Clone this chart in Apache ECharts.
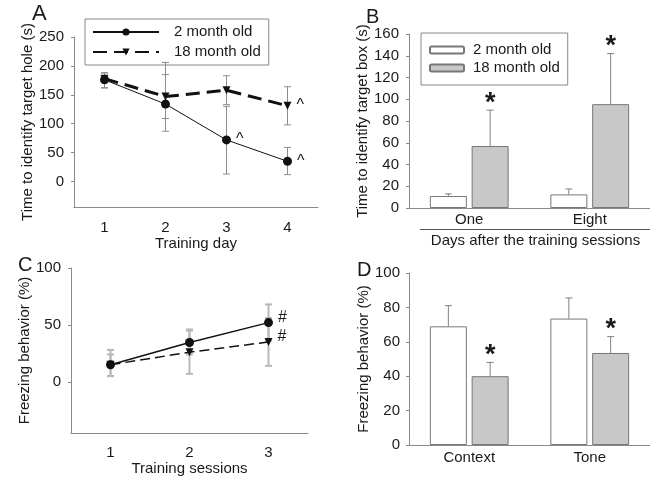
<!DOCTYPE html>
<html><head><meta charset="utf-8">
<script src="https://cdn.jsdelivr.net/npm/echarts@6/dist/echarts.min.js"></script>
<style>html,body{margin:0;padding:0;background:#fff}#c{width:650px;height:482px}</style>
</head><body><div id="c"></div>
<script>
// ---- Panel A data ----
const days = ['1','2','3','4'];
const a2 = [176,134,72,35];
const a2Lo = [162,87,13,12];
const a2Hi = [188,185,130,59];
const a18 = [178,147,158,131];
const a18Lo = [162,109,133,98];
const a18Hi = [188,206,183,164];
const aMark2 = ['','','^','^'];
const aMark18 = ['','','','^'];
const yTicksA = [0,50,100,150,200,250];
// ---- Panel B data ----
const bCats = ['One','Eight'];
const b2 = [11,12.5];
const b2Err = [13,17.5];
const b18 = [57,95.5];
const b18Err = [90,142];
const bMark18 = ['*','*'];
// ---- Panel C data ----
const sessions = ['1','2','3'];
const c2 = [15,34.5,52];
const c2Lo = [5,24,36];
const c2Hi = [24,46,68];
const c18 = [15,26,35];
const c18Lo = [5,7,14];
const c18Hi = [28,45,56];
const cMark2 = ['','','#'];
const cMark18 = ['','','#'];
const yTicksC = [0,50,100];
// ---- Panel D data ----
const dCats = ['Context','Tone'];
const d2 = [69,73.5];
const d2Err = [81,85.5];
const d18 = [40,53.5];
const d18Err = [48,63];
const dMark18 = ['*','*'];

const FONT = 'Liberation Sans, Arial, sans-serif';
const TXT = '#1a1a1a';
const AX = '#8a8a8a';
const FS = 15;

function lineData(vals, marks){
  return vals.map((v,i)=>({value:v, label:{show:!!marks[i], formatter:marks[i]}}));
}
function errSeries(name, gi, lo, hi, opt){
  const o = Object.assign({offset:0, color:'#888', width:1, capW:7, lowerCap:true, marks:null, markFont:'bold 27px '+FONT, markGap:0}, opt);
  return {
    type:'custom', name:name, xAxisIndex:gi, yAxisIndex:gi, z:o.z||3,
    data: lo.map((l,i)=>[i,l,hi[i]]),
    encode:{x:0,y:[1,2]},
    silent:true,
    renderItem:function(params, api){
      const i = api.value(0);
      const p1 = api.coord([i, api.value(1)]);
      const p2 = api.coord([i, api.value(2)]);
      const x = p1[0] + o.offset;
      const st = {stroke:o.color, lineWidth:o.width};
      const ch = [
        {type:'line', shape:{x1:x,y1:p1[1],x2:x,y2:p2[1]}, style:st},
        {type:'line', shape:{x1:x-o.capW/2,y1:p2[1],x2:x+o.capW/2,y2:p2[1]}, style:st}
      ];
      if(o.lowerCap) ch.push({type:'line', shape:{x1:x-o.capW/2,y1:p1[1],x2:x+o.capW/2,y2:p1[1]}, style:st});
      if(o.marks && o.marks[params.dataIndex]){
        ch.push({type:'text', x:x, y:p2[1]-o.markGap, style:{text:o.marks[params.dataIndex], font:o.markFont, fill:TXT, align:'center', verticalAlign:'middle'}});
      }
      return {type:'group', children:ch};
    }
  };
}
const axisLabelBase = {color:TXT, fontSize:FS, fontFamily:FONT};
const nameBase = {color:TXT, fontSize:FS, fontFamily:FONT};

const barOff = 37/2 + 37*0.13/2;

const option = {
  animation:false,
  textStyle:{fontFamily:FONT},
  grid:[
    {left:74, top:37, width:244, height:170},
    {left:409, top:34, width:250, height:174},
    {left:71, top:268, width:237, height:165},
    {left:409, top:273, width:250, height:172}
  ],
  xAxis:[
    {gridIndex:0, type:'category', data:days, boundaryGap:true,
     axisLine:{onZero:false, lineStyle:{color:AX}}, axisTick:{alignWithLabel:true, inside:true, length:3, lineStyle:{color:AX}},
     axisLabel:Object.assign({margin:13}, axisLabelBase),
     name:'Training day', nameLocation:'middle', nameGap:29, nameTextStyle:nameBase},
    {gridIndex:1, type:'category', data:bCats, boundaryGap:true,
     axisLine:{onZero:false, lineStyle:{color:AX}}, axisTick:{show:false},
     axisLabel:Object.assign({margin:4}, axisLabelBase),
     name:'Days after the training sessions', nameLocation:'middle', nameGap:25,
     nameTextStyle:Object.assign({padding:[0,0,0,12]}, nameBase)},
    {gridIndex:2, type:'category', data:sessions, boundaryGap:true,
     axisLine:{onZero:false, lineStyle:{color:AX}}, axisTick:{alignWithLabel:true, length:3, lineStyle:{color:'#ccc'}},
     axisLabel:Object.assign({margin:12}, axisLabelBase),
     name:'Training sessions', nameLocation:'middle', nameGap:28, nameTextStyle:nameBase},
    {gridIndex:3, type:'category', data:dCats, boundaryGap:true,
     axisLine:{onZero:false, lineStyle:{color:AX}}, axisTick:{show:false},
     axisLabel:Object.assign({margin:5}, axisLabelBase)}
  ],
  yAxis:[
    {gridIndex:0, type:'value', min:-44, max:250,
     axisLine:{show:true, lineStyle:{color:AX}}, splitLine:{show:false},
     axisTick:{show:true, length:3, customValues:yTicksA, lineStyle:{color:AX}},
     axisLabel:Object.assign({margin:10, customValues:yTicksA}, axisLabelBase),
     name:'Time to identify target hole (s)', nameLocation:'middle', nameGap:38, nameTextStyle:nameBase},
    {gridIndex:1, type:'value', min:0, max:160, interval:20,
     axisLine:{show:true, lineStyle:{color:AX}}, splitLine:{show:false},
     axisTick:{show:true, length:3, lineStyle:{color:AX}},
     axisLabel:Object.assign({margin:10}, axisLabelBase),
     name:'Time to identify target box (s)', nameLocation:'middle', nameGap:38, nameTextStyle:nameBase},
    {gridIndex:2, type:'value', min:-45, max:100,
     axisLine:{show:true, lineStyle:{color:AX}}, splitLine:{show:false},
     axisTick:{show:true, length:3, customValues:yTicksC, lineStyle:{color:AX}},
     axisLabel:Object.assign({margin:10, customValues:yTicksC}, axisLabelBase),
     name:'Freezing behavior (%)', nameLocation:'middle', nameGap:35, nameTextStyle:nameBase},
    {gridIndex:3, type:'value', min:0, max:100, interval:20,
     axisLine:{show:true, lineStyle:{color:AX}}, splitLine:{show:false},
     axisTick:{show:true, length:3, lineStyle:{color:AX}},
     axisLabel:Object.assign({margin:9}, axisLabelBase),
     name:'Freezing behavior (%)', nameLocation:'middle', nameGap:33, nameTextStyle:nameBase}
  ],
  legend:[
    {left:85, top:19, orient:'vertical', data:['A: 2 month old','A: 18 month old'],
     formatter:n=>n.replace(/^.: /,''), itemWidth:66, itemHeight:9, itemGap:5,
     symbolRotate:180,
     padding:[5.5,8,5.5,7], borderColor:'#888', borderWidth:1, selectedMode:false,
     textStyle:{color:TXT, fontSize:FS, fontFamily:FONT, padding:[0,0,0,10]}},
    {left:421, top:33, orient:'vertical', data:['B: 2 month old','B: 18 month old'],
     formatter:n=>n.replace(/^.: /,''), itemWidth:34, itemHeight:7, itemGap:3,
     padding:[9.5,8,9.5,8], borderColor:'#888', borderWidth:1, selectedMode:false,
     textStyle:{color:TXT, fontSize:FS, fontFamily:FONT, padding:[0,0,0,4]}}
  ],
  series:[
    errSeries('errA2', 0, a2Lo, a2Hi, {color:'#8c8c8c', capW:7}),
    errSeries('errA18', 0, a18Lo, a18Hi, {color:'#8c8c8c', capW:7}),
    {type:'line', name:'A: 2 month old', xAxisIndex:0, yAxisIndex:0, data:lineData(a2, aMark2),
     symbol:'circle', symbolSize:9, z:5, color:'#111',
     lineStyle:{color:'#111', width:1}, itemStyle:{color:'#111'},
     label:{position:'right', distance:5, fontSize:16, color:TXT, fontFamily:FONT}},
    {type:'line', name:'A: 18 month old', xAxisIndex:0, yAxisIndex:0, data:lineData(a18, aMark18),
     symbol:'triangle', symbolRotate:180, symbolSize:8, z:5, color:'#111',
     lineStyle:{color:'#111', width:3, type:[14,7]}, itemStyle:{color:'#111'},
     label:{position:'right', distance:5, fontSize:16, color:TXT, fontFamily:FONT}},

    {type:'bar', name:'B: 2 month old', xAxisIndex:1, yAxisIndex:1, data:b2, barWidth:37, barGap:'13%',
     itemStyle:{color:'#ffffff', borderColor:'#777', borderWidth:1}},
    {type:'bar', name:'B: 18 month old', xAxisIndex:1, yAxisIndex:1, data:b18, barWidth:37, barGap:'13%',
     itemStyle:{color:'#c8c8c8', borderColor:'#777', borderWidth:1}},
    errSeries('errB2', 1, b2, b2Err, {offset:-barOff, color:'#808080', capW:7, lowerCap:false}),
    errSeries('errB18', 1, b18, b18Err, {offset:barOff, color:'#808080', capW:7, lowerCap:false, marks:bMark18, markGap:7}),

    errSeries('errC2', 2, c2Lo, c2Hi, {color:'#b8b8b8', width:2, capW:7}),
    errSeries('errC18', 2, c18Lo, c18Hi, {color:'#b8b8b8', width:2, capW:7}),
    {type:'line', name:'C: 2 month old', xAxisIndex:2, yAxisIndex:2, data:lineData(c2, cMark2),
     symbol:'circle', symbolSize:9, z:5, color:'#111',
     lineStyle:{color:'#111', width:1.5}, itemStyle:{color:'#111'},
     label:{position:'right', distance:5, offset:[0,-5], fontSize:16, color:TXT, fontFamily:FONT}},
    {type:'line', name:'C: 18 month old', xAxisIndex:2, yAxisIndex:2, data:lineData(c18, cMark18),
     symbol:'triangle', symbolRotate:180, symbolSize:8, z:5, color:'#111',
     lineStyle:{color:'#111', width:1.5, type:[10,5]}, itemStyle:{color:'#111'},
     label:{position:'right', distance:5, offset:[0,-5], fontSize:16, color:TXT, fontFamily:FONT}},

    {type:'bar', name:'D: 2 month old', xAxisIndex:3, yAxisIndex:3, data:d2, barWidth:37, barGap:'13%',
     itemStyle:{color:'#ffffff', borderColor:'#777', borderWidth:1}},
    {type:'bar', name:'D: 18 month old', xAxisIndex:3, yAxisIndex:3, data:d18, barWidth:37, barGap:'13%',
     itemStyle:{color:'#c8c8c8', borderColor:'#777', borderWidth:1}},
    errSeries('errD2', 3, d2, d2Err, {offset:-barOff, color:'#808080', capW:7, lowerCap:false}),
    errSeries('errD18', 3, d18, d18Err, {offset:barOff, color:'#808080', capW:7, lowerCap:false, marks:dMark18, markGap:7})
  ],
  graphic:[
    {type:'text', left:32, top:3, style:{text:'A', font:'22px '+FONT, fill:TXT}},
    {type:'text', left:366, top:7, style:{text:'B', font:'20px '+FONT, fill:TXT}},
    {type:'text', left:18, top:255, style:{text:'C', font:'20px '+FONT, fill:TXT}},
    {type:'text', left:357, top:260, style:{text:'D', font:'20px '+FONT, fill:TXT}},
    {type:'line', shape:{x1:420, y1:229.5, x2:650, y2:229.5}, style:{stroke:'#555', lineWidth:1}}
  ]
};
const chart = echarts.init(document.getElementById('c'), null, {renderer:'canvas'});
chart.setOption(option);
</script>
</body></html>
